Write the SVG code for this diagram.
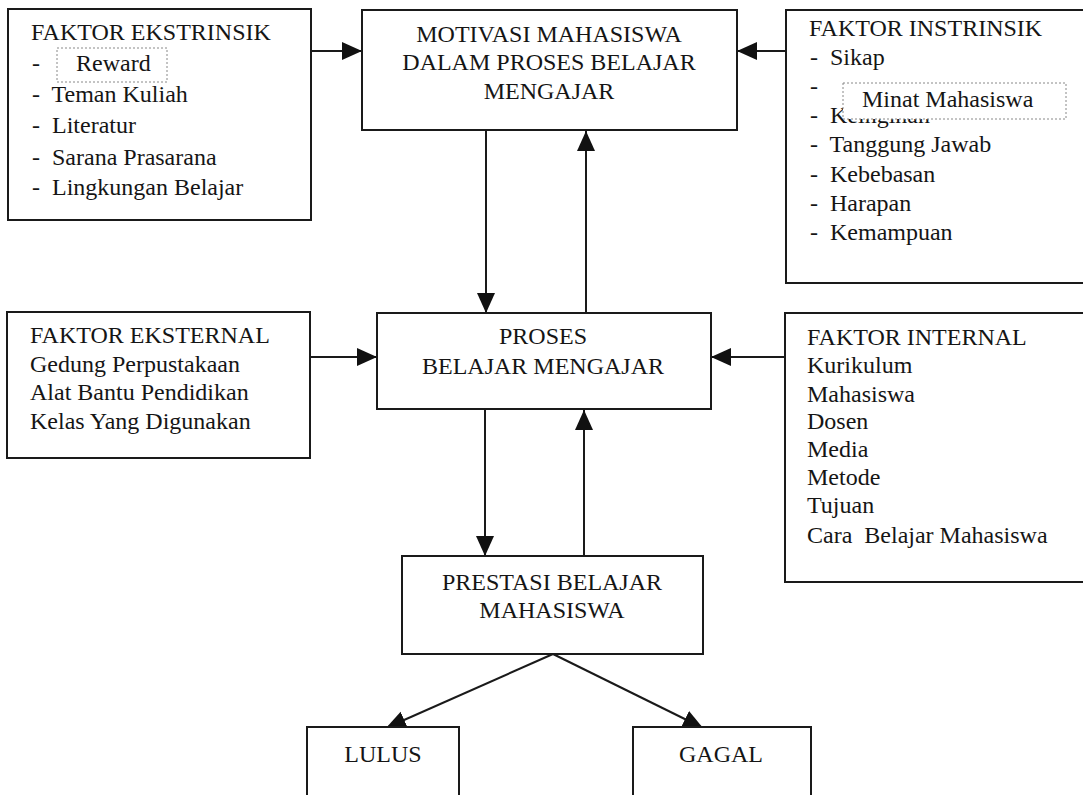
<svg xmlns="http://www.w3.org/2000/svg" width="1083" height="795" viewBox="0 0 1083 795">
<style>
  .box { fill: #fff; stroke: #1a1a1a; stroke-width: 2; }
  .dbox { fill: #fff; stroke: #888; stroke-width: 1; stroke-dasharray: 2 2; }
  .t { font-family: "Liberation Serif", "Times New Roman", serif; font-size: 24px; fill: #151515; white-space: pre; }
  .c { text-anchor: middle; }
  .ln { stroke: #1a1a1a; stroke-width: 2; fill: none; marker-end: url(#ah); }
</style>
<defs>
  <marker id="ah" markerUnits="userSpaceOnUse" markerWidth="22" markerHeight="20" refX="20" refY="9" orient="auto">
    <path d="M0,0 L20,9 L0,18 z" fill="#111"/>
  </marker>
</defs>
<rect width="1083" height="795" fill="#fff"/>

<g id="connectors">
  <line class="ln" x1="311" y1="51" x2="362" y2="51"/>
  <line class="ln" x1="786" y1="51" x2="737" y2="51"/>
  <line class="ln" x1="486" y1="130" x2="486" y2="313"/>
  <line class="ln" x1="586" y1="317" x2="586" y2="131"/>
  <line class="ln" x1="310" y1="357" x2="377" y2="357"/>
  <line class="ln" x1="785" y1="357" x2="711" y2="357"/>
  <line class="ln" x1="485" y1="409" x2="485" y2="556"/>
  <line class="ln" x1="584" y1="556" x2="584" y2="410"/>
  <line class="ln" x1="553" y1="654" x2="386" y2="728"/>
  <line class="ln" x1="553" y1="654" x2="703" y2="728"/>
</g>

<g id="ekstrinsik">
  <rect class="box" x="8" y="9" width="303" height="211"/>
  <text class="t" x="31" y="40">FAKTOR EKSTRINSIK</text>
  <text class="t" x="32" y="71">-</text>
  <rect class="dbox" x="57" y="48" width="110" height="34"/>
  <text class="t" x="76" y="71">Reward</text>
  <text class="t" x="32" y="102">-  Teman Kuliah</text>
  <text class="t" x="32" y="133">-  Literatur</text>
  <text class="t" x="32" y="165">-  Sarana Prasarana</text>
  <text class="t" x="32" y="195">-  Lingkungan Belajar</text>
</g>

<g id="motivasi">
  <rect class="box" x="362" y="10" width="375" height="120"/>
  <text class="t c" x="549" y="42">MOTIVASI MAHASISWA</text>
  <text class="t c" x="549" y="70">DALAM PROSES BELAJAR</text>
  <text class="t c" x="549" y="99">MENGAJAR</text>
</g>

<g id="instrinsik">
  <rect class="box" x="786" y="10" width="310" height="273"/>
  <text class="t" x="809" y="36">FAKTOR INSTRINSIK</text>
  <text class="t" x="810" y="65">-  Sikap</text>
  <text class="t" x="810" y="94">-</text>
  <text class="t" x="810" y="123">-  Keinginan</text>
  <rect class="dbox" x="843" y="83" width="223" height="36"/>
  <text class="t" x="862" y="107">Minat Mahasiswa</text>
  <text class="t" x="810" y="152">-  Tanggung Jawab</text>
  <text class="t" x="810" y="182">-  Kebebasan</text>
  <text class="t" x="810" y="211">-  Harapan</text>
  <text class="t" x="810" y="240">-  Kemampuan</text>
</g>

<g id="eksternal">
  <rect class="box" x="7" y="312" width="303" height="146"/>
  <text class="t" x="30" y="343">FAKTOR EKSTERNAL</text>
  <text class="t" x="30" y="372">Gedung Perpustakaan</text>
  <text class="t" x="30" y="400">Alat Bantu Pendidikan</text>
  <text class="t" x="30" y="429">Kelas Yang Digunakan</text>
</g>

<g id="proses">
  <rect class="box" x="377" y="313" width="334" height="96"/>
  <text class="t c" x="543" y="344">PROSES</text>
  <text class="t c" x="543" y="374">BELAJAR MENGAJAR</text>
</g>

<g id="internal">
  <rect class="box" x="785" y="313" width="310" height="269"/>
  <text class="t" x="807" y="345">FAKTOR INTERNAL</text>
  <text class="t" x="807" y="373">Kurikulum</text>
  <text class="t" x="807" y="402">Mahasiswa</text>
  <text class="t" x="807" y="429">Dosen</text>
  <text class="t" x="807" y="457">Media</text>
  <text class="t" x="807" y="485">Metode</text>
  <text class="t" x="807" y="513">Tujuan</text>
  <text class="t" x="807" y="543">Cara  Belajar Mahasiswa</text>
</g>

<g id="prestasi">
  <rect class="box" x="402" y="556" width="301" height="98"/>
  <text class="t c" x="552" y="590">PRESTASI BELAJAR</text>
  <text class="t c" x="552" y="618">MAHASISWA</text>
</g>

<g id="lulus">
  <rect class="box" x="307" y="727" width="152" height="80"/>
  <text class="t c" x="383" y="762">LULUS</text>
</g>

<g id="gagal">
  <rect class="box" x="633" y="727" width="178" height="80"/>
  <text class="t c" x="721" y="762">GAGAL</text>
</g>
</svg>
